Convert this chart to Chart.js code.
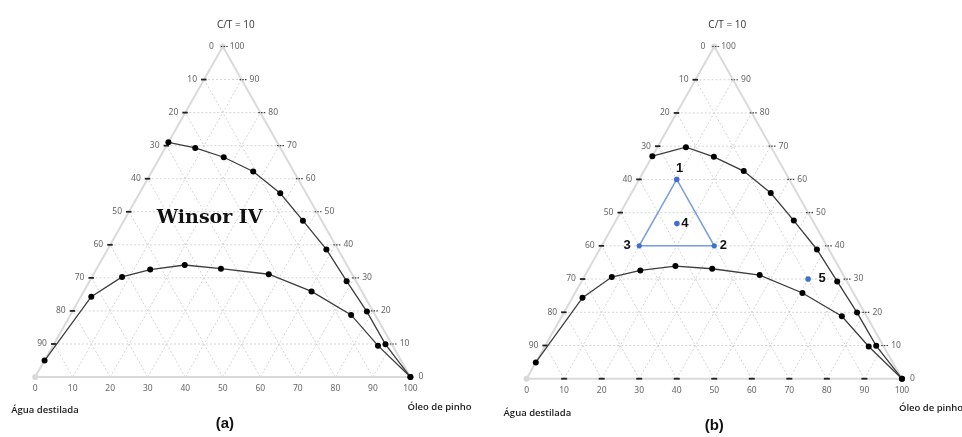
<!DOCTYPE html>
<html>
<head>
<meta charset="utf-8">
<script src="https://cdn.jsdelivr.net/npm/chart.js@4.4.1/dist/chart.umd.min.js"></script>
<style>
  html,body{margin:0;padding:0;background:#fff;width:962px;height:437px;overflow:hidden;}
  .panel{position:absolute;top:0;width:481px;height:437px;}
</style>
</head>
<body>
<div class="panel" style="left:0"><canvas id="ca" width="481" height="437"></canvas></div>
<div class="panel" style="left:481px"><canvas id="cb" width="481" height="437"></canvas></div>
<script>
// ---------- DATA (ternary %: oil = Óleo de pinho, ct = C/T) ----------
const tickValues = [0, 10, 20, 30, 40, 50, 60, 70, 80, 90, 100];
const titleText = "C/T = 10";
const waterName = "Água destilada";
const oilName = "Óleo de pinho";

// panel (a)
const upperA_oil = [0, 8, 17, 27, 37.5, 47.7, 58.3, 68.5, 78.5, 88.4, 100];
const upperA_ct  = [71, 69.3, 66.5, 62.2, 55.6, 47.3, 38.6, 29, 19.8, 9.9, 0];
const lowerA_oil = [0, 2.8, 8, 14.4, 22.9, 33.1, 46.7, 60.7, 74.8, 86.6, 100];
const lowerA_ct  = [5, 24.3, 30.3, 32.5, 33.9, 32.8, 31.1, 25.9, 18.8, 9.5, 0];
const regionLabelA = "Winsor IV";

// panel (b)
const upperB_oil = [0, 7.6, 16.5, 26.6, 37.1, 47.4, 57.9, 68.1, 78.1, 88.2, 100];
const upperB_ct  = [67, 69.7, 66.8, 62.5, 55.9, 47.6, 38.9, 29.3, 19.9, 9.9, 0];
const lowerB_oil = [0, 2.7, 7.4, 14, 22.7, 32.9, 46.5, 60.6, 74.6, 86.3, 100];
const lowerB_ct  = [4.9, 24.4, 30.6, 32.6, 33.9, 33.1, 31.2, 25.8, 18.8, 9.7, 0];
const blueOil    = [10, 30, 10, 16.7, 60];
const blueCt     = [60, 40, 40, 46.7, 30];
const blueLabels = ["1", "2", "3", "4", "5"];

// ---------- helpers ----------
function tern(oil, ct) { return { x: oil + ct / 2, y: ct }; }
function series(oils, cts) { return oils.map((o, i) => tern(o, cts[i])); }

const curveStyle = {
  showLine: true, borderColor: '#3c3c3c', borderWidth: 1.3, tension: 0,
  pointRadius: 3, pointBackgroundColor: '#000', pointBorderColor: '#000', pointBorderWidth: 0,
  clip: false
};

const frame = {
  id: 'ternaryFrame',
  beforeDatasetsDraw(chart) {
    const o = chart.options.plugins.ternaryFrame;
    const xs = chart.scales.x, ys = chart.scales.y, ctx = chart.ctx;
    const P = (oil, ct) => { const t = tern(oil, ct); return [xs.getPixelForValue(t.x), ys.getPixelForValue(t.y)]; };
    ctx.save();
    // grid
    ctx.strokeStyle = '#d4d4d4'; ctx.lineWidth = 1; ctx.setLineDash([2, 2]);
    tickValues.slice(1, -1).forEach(k => {
      const seg = (a, b) => { ctx.beginPath(); ctx.moveTo(a[0], a[1]); ctx.lineTo(b[0], b[1]); ctx.stroke(); };
      seg(P(0, k), P(100 - k, k));          // constant C/T
      seg(P(k, 0), P(k, 100 - k));          // constant oil
      seg(P(100 - k, 0), P(0, 100 - k));    // constant water
    });
    ctx.setLineDash([]);
    // border
    const A = P(0, 100), L = P(0, 0), R = P(100, 0);
    ctx.strokeStyle = '#dadada'; ctx.lineWidth = 2;
    ctx.beginPath(); ctx.moveTo(A[0], A[1]); ctx.lineTo(L[0], L[1]); ctx.lineTo(R[0], R[1]); ctx.closePath(); ctx.stroke();
    // vertex dots
    ctx.fillStyle = '#d9d9d9';
    [A, L].forEach(p => { ctx.beginPath(); ctx.arc(p[0], p[1], 3, 0, Math.PI * 2); ctx.fill(); });
    // side ticks and labels
    ctx.font = '8.5px "Noto Sans"'; ctx.fillStyle = '#666'; ctx.textBaseline = 'middle';
    tickValues.forEach(k => {
      const le = P(0, 100 - k);   // left edge, label k (water side)
      const ctv = 100 - k;
      // left
      if (k < 100) {
        if (k > 0) {
          ctx.strokeStyle = '#222'; ctx.lineWidth = 1.8;
          ctx.beginPath(); ctx.moveTo(le[0] - 3, le[1]); ctx.lineTo(le[0] + 2.5, le[1]); ctx.stroke();
        }
        ctx.textAlign = 'right'; ctx.fillText(String(k), le[0] - (k === 0 ? 9 : 7), le[1]);
      }
      // right
      const rr = P(100 - ctv, ctv);
      if (ctv > 0) {
        ctx.strokeStyle = '#3a3a3a'; ctx.lineWidth = 1.2; ctx.setLineDash([1.5, 1.2]);
        ctx.beginPath(); ctx.moveTo(rr[0] - 2, rr[1]); ctx.lineTo(rr[0] + 5, rr[1]); ctx.stroke();
        ctx.setLineDash([]);
      }
      ctx.textAlign = 'left'; ctx.fillText(String(ctv), rr[0] + (ctv === 100 ? 7 : 8), rr[1]);
      // bottom
      const b = P(k, 0);
      if (o.bottomDashes && k > 0 && k < 100) {
        ctx.strokeStyle = '#222'; ctx.lineWidth = 1.8;
        ctx.beginPath(); ctx.moveTo(b[0] - 3, b[1]); ctx.lineTo(b[0] + 3, b[1]); ctx.stroke();
      }
      ctx.textAlign = 'center'; ctx.fillText(String(k), b[0], b[1] + 12);
    });
    ctx.restore();
  },
  afterDatasetsDraw(chart) {
    const o = chart.options.plugins.ternaryFrame;
    const xs = chart.scales.x, ys = chart.scales.y, ctx = chart.ctx;
    const P = (oil, ct) => { const t = tern(oil, ct); return [xs.getPixelForValue(t.x), ys.getPixelForValue(t.y)]; };
    const A = P(0, 100), L = P(0, 0), R = P(100, 0);
    ctx.save();
    ctx.textBaseline = 'middle';
    // title
    ctx.fillStyle = '#333'; ctx.font = '10px "Open Sans"'; ctx.textAlign = 'center';
    ctx.fillText(titleText, A[0] + 13, A[1] - 21);
    // vertex names
    ctx.fillStyle = '#1a1a1a'; ctx.font = '600 9.5px "Open Sans"'; ctx.textAlign = 'left';
    ctx.fillText(waterName, L[0] - o.waterShift, L[1] + o.waterDy);
    ctx.fillText(oilName, R[0] - 3, R[1] + 30);
    // caption
    ctx.font = 'bold 15px "Liberation Sans"'; ctx.textAlign = 'center'; ctx.fillStyle = '#111';
    const c = P(50, 0);
    ctx.fillText(o.caption, c[0] + o.captionDx, c[1] + 47);
    // region label
    if (o.region) {
      ctx.font = 'bold 19px "DejaVu Serif"'; ctx.fillStyle = '#111';
      ctx.fillText(o.region, xs.getPixelForValue(46.5), ys.getPixelForValue(48));
    }
    // point labels
    if (o.pointLabels) {
      ctx.font = 'bold 13px "Liberation Sans"'; ctx.fillStyle = '#111';
      const offs = [[3, -11], [9, 0], [-12, 0], [8, 0], [14, -1]];
      o.pointLabels.forEach((t, i) => {
        const p = P(blueOil[i], blueCt[i]);
        ctx.fillText(t, p[0] + offs[i][0], p[1] + offs[i][1]);
      });
    }
    ctx.restore();
  }
};

function makeChart(id, datasets, sc, opts) {
  return new Chart(document.getElementById(id), {
    type: 'scatter',
    data: { datasets },
    options: {
      responsive: false, animation: false, devicePixelRatio: 1,
      layout: { padding: 0 },
      scales: {
        x: { type: 'linear', display: false, min: sc[0], max: sc[1] },
        y: { type: 'linear', display: false, min: sc[2], max: sc[3] }
      },
      plugins: { legend: { display: false }, tooltip: { enabled: false }, ternaryFrame: opts }
    },
    plugins: [frame]
  });
}

makeChart('ca', [
  Object.assign({ data: series(upperA_oil, upperA_ct) }, curveStyle),
  Object.assign({ data: series(lowerA_oil, lowerA_ct) }, curveStyle)
], [-8.31, 117.74, -16.93, 112.86],
{ caption: '(a)', captionDx: 2, region: regionLabelA, bottomDashes: false, waterShift: 24, waterDy: 33 });

const tri = [0, 1, 2, 0].map(i => tern(blueOil[i], blueCt[i]));
const extra = [3, 4].map(i => tern(blueOil[i], blueCt[i]));
makeChart('cb', [
  Object.assign({ data: series(upperB_oil, upperB_ct) }, curveStyle),
  Object.assign({ data: series(lowerB_oil, lowerB_ct) }, curveStyle),
  { data: tri, showLine: true, borderColor: '#7a9ee0', borderWidth: 1.5, tension: 0,
    pointRadius: 2.6, pointBackgroundColor: '#3f6fd1', pointBorderColor: '#3f6fd1', pointBorderWidth: 0, clip: false },
  { data: extra, showLine: false, pointRadius: 2.8, pointBackgroundColor: '#3f6fd1', pointBorderColor: '#3f6fd1', pointBorderWidth: 0, clip: false }
], [-11.08, 114.94, -16.34, 112.80],
{ caption: '(b)', captionDx: 0, pointLabels: blueLabels, bottomDashes: true, waterShift: 23, waterDy: 35 });
</script>
</body>
</html>
